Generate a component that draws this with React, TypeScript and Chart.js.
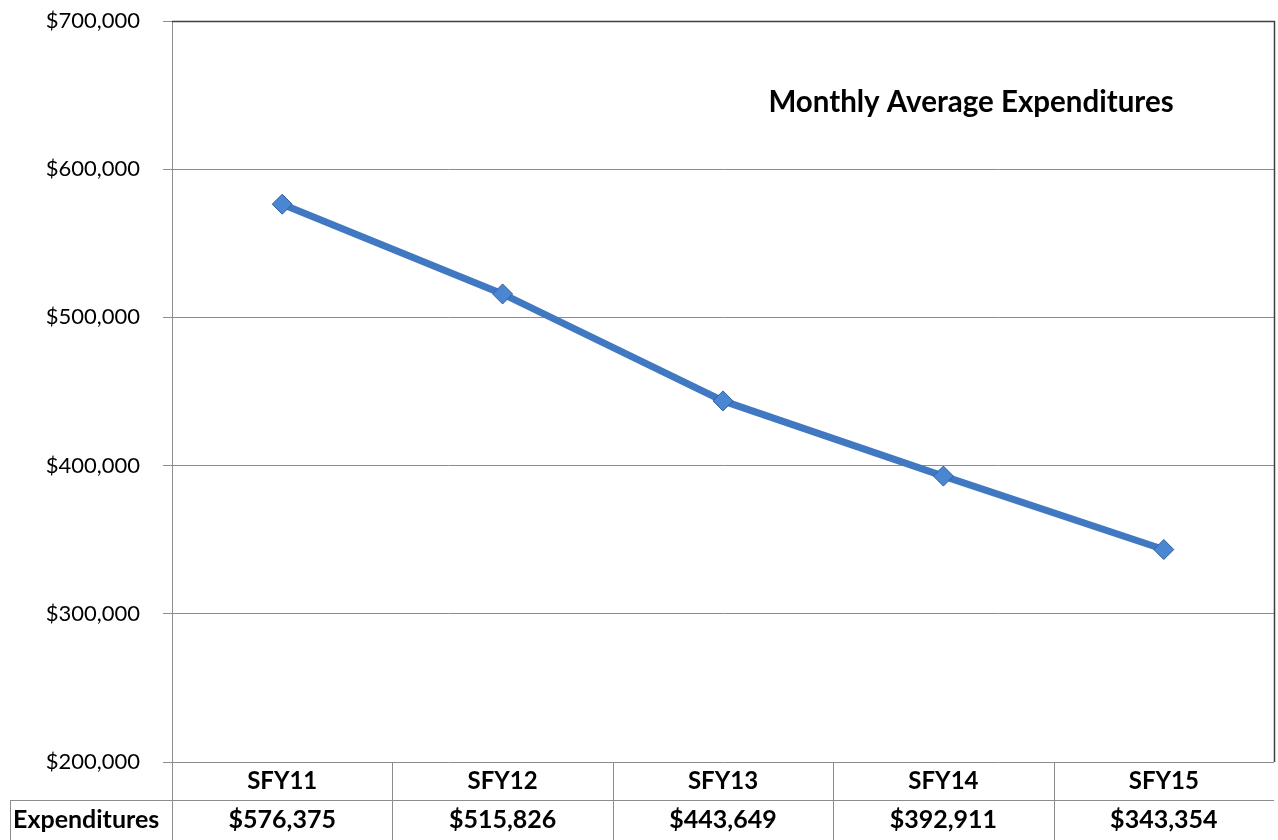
import React, { useEffect, useRef } from "react";
import { Chart, registerables } from "chart.js";

Chart.register(...registerables);

const categories = ["SFY11", "SFY12", "SFY13", "SFY14", "SFY15"];
const expenditures = [576375, 515826, 443649, 392911, 343354];
const rowLabel = "Expenditures";
const chartTitle = "Monthly Average Expenditures";
const yMin = 200000;
const yMax = 700000;
const yStep = 100000;

const fmt = (v: number) => "$" + v.toLocaleString("en-US");
const FONT = "Lato, 'Noto Sans', sans-serif";

const tablePlugin = {
  id: "dataTable",
  afterDraw(chart: any) {
    const { ctx, chartArea } = chart;
    const { left, right, top, bottom } = chartArea;
    const xs = chart.scales.x;
    const n = categories.length;
    const colW = (right - left) / n;
    const rowSep = 800;
    const tableBottom = 840;
    ctx.save();
    ctx.strokeStyle = "#404040";
    ctx.lineWidth = 1.5;
    ctx.beginPath();
    ctx.moveTo(left, top + 0.5);
    ctx.lineTo(right + 0.5, top + 0.5);
    ctx.lineTo(right + 0.5, bottom);
    ctx.stroke();
    ctx.strokeStyle = "#8c8c8c";
    ctx.lineWidth = 1;
    ctx.beginPath();
    ctx.moveTo(10, rowSep + 0.5);
    ctx.lineTo(right, rowSep + 0.5);
    for (let i = 0; i < n; i++) {
      const x = Math.round(left + colW * i) + 0.5;
      ctx.moveTo(x, bottom);
      ctx.lineTo(x, tableBottom);
    }
    ctx.moveTo(10.5, rowSep);
    ctx.lineTo(10.5, tableBottom);
    ctx.stroke();
    ctx.fillStyle = "#000";
    ctx.textAlign = "center";
    ctx.textBaseline = "middle";
    categories.forEach((c, i) => {
      const x = xs.getPixelForValue(i);
      ctx.font = "bold 24px " + FONT;
      ctx.fillText(c, x, (bottom + rowSep) / 2);
      ctx.font = "bold 25px " + FONT;
      ctx.fillText(fmt(expenditures[i]), x, (rowSep + tableBottom) / 2);
    });
    ctx.font = "bold 25px " + FONT;
    ctx.textAlign = "left";
    ctx.fillText(rowLabel, 13, (rowSep + tableBottom) / 2);
    ctx.font = "bold 29.5px " + FONT;
    ctx.textAlign = "center";
    ctx.textBaseline = "alphabetic";
    ctx.fillText(chartTitle, 971, 112);
    ctx.restore();
  },
};

export default function App() {
  const ref = useRef<HTMLCanvasElement>(null);
  useEffect(() => {
    document.body.style.margin = "0";
    const chart = new Chart(ref.current!, {
      type: "line",
      data: {
        labels: categories,
        datasets: [
          {
            label: rowLabel,
            data: expenditures,
            borderColor: "#4079c2",
            borderWidth: 7,
            pointStyle: "rectRot",
            pointRadius: 10,
            pointBackgroundColor: "#4a86d2",
            pointBorderColor: "#2f609c",
            pointBorderWidth: 1,
            tension: 0,
          },
        ],
      },
      options: {
        animation: false,
        responsive: false,
        layout: { autoPadding: false, padding: { top: 21, right: 4, bottom: 78, left: 0 } },
        plugins: { legend: { display: false }, title: { display: false }, tooltip: { enabled: false } },
        scales: {
          x: { type: "category", offset: true, display: false },
          y: {
            min: yMin,
            max: yMax,
            afterFit: (s: any) => {
              s.width = 172;
              s.paddingTop = 0;
              s.paddingBottom = 0;
            },
            border: { display: true, color: "#8c8c8c", width: 1 },
            grid: { color: "#8c8c8c", lineWidth: 1, tickLength: 9, drawTicks: true },
            ticks: {
              stepSize: yStep,
              padding: 23,
              color: "#000",
              font: { family: FONT, size: 22 },
              callback: (v: any) => fmt(Number(v)),
            },
          },
        },
      },
      plugins: [tablePlugin],
    });
    return () => chart.destroy();
  }, []);
  return <canvas ref={ref} width={1278} height={840} style={{ display: "block" }} />;
}
